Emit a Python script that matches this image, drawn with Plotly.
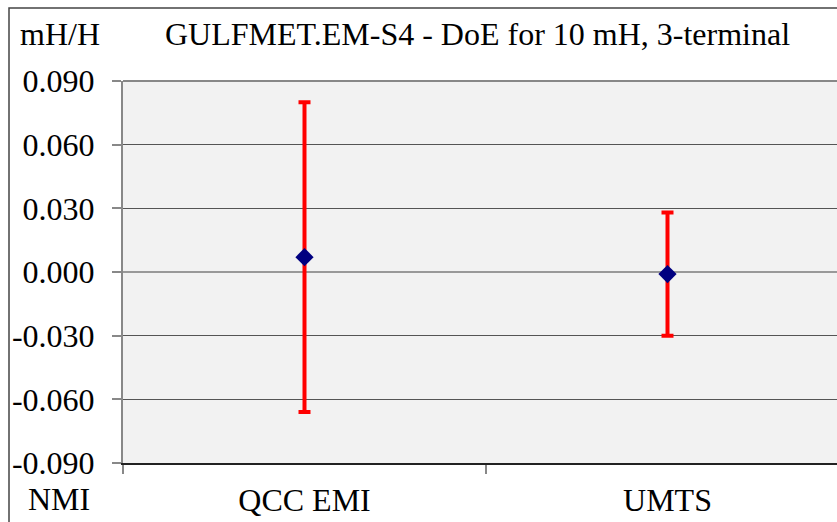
import plotly.graph_objects as go

categories = ["QCC EMI", "UMTS"]
values = [0.007, -0.001]
err_plus = [0.073, 0.029]
err_minus = [0.073, 0.029]
y_ticks = [-0.09, -0.06, -0.03, 0.0, 0.03, 0.06, 0.09]
y_tick_labels = ["-0.090", "-0.060", "-0.030", "0.000", "0.030", "0.060", "0.090"]

W, H = 837, 522
L, R, T, B = 123, 0, 81, 59
pw = W - L - R
ph = H - T - B

def px_x(p):
    return (p - L) / pw

def px_y(p):
    return 1 - (p - T) / ph

FONT = "Liberation Serif"
FS = 32

fig = go.Figure()
fig.add_trace(go.Scatter(
    x=list(range(len(categories))),
    y=values,
    mode="markers",
    marker=dict(symbol="diamond", size=14, color="#000080"),
    error_y=dict(type="data", symmetric=False, array=err_plus, arrayminus=err_minus,
                 color="#ff0000", thickness=4, width=6),
    showlegend=False,
    hoverinfo="y",
))

fig.update_layout(
    width=W, height=H,
    margin=dict(l=L, r=R, t=T, b=B),
    paper_bgcolor="white",
    plot_bgcolor="#f2f2f2",
    font=dict(family=FONT, size=FS, color="black"),
    showlegend=False,
)

fig.update_xaxes(
    range=[-0.5, -0.5 + pw / 363.0],
    tickvals=list(range(len(categories))),
    ticktext=categories,
    ticks="",
    showgrid=False,
    zeroline=False,
    showline=True, linecolor="#222222", linewidth=2,
    ticklabelstandoff=8,
    tickfont=dict(family=FONT, size=FS),
    minor=dict(tickvals=[-0.5, 0.5], ticks="outside", ticklen=9, tickcolor="#888888", tickwidth=2, showgrid=False),
    fixedrange=True,
)
fig.update_yaxes(
    range=[-0.09, 0.09],
    tickvals=y_ticks,
    ticktext=y_tick_labels,
    ticks="outside", ticklen=9, tickcolor="#888888", tickwidth=2,
    showgrid=True, gridcolor="#555555", gridwidth=1,
    zeroline=True, zerolinecolor="#999999", zerolinewidth=2,
    showline=True, linecolor="#888888", linewidth=2,
    mirror=False,
    ticklabelstandoff=11,
    tickfont=dict(family=FONT, size=FS),
    fixedrange=True,
)

# top border of plot area
fig.add_shape(type="line", xref="paper", yref="paper", x0=0, x1=1, y0=1, y1=1,
              line=dict(color="#888888", width=2))
# outer chart frame (partly cropped)
fig.add_shape(type="rect", xref="paper", yref="paper",
              x0=px_x(9), x1=1.2, y0=-0.3, y1=px_y(8),
              line=dict(color="#444444", width=1.5), fillcolor="rgba(0,0,0,0)")

fig.add_annotation(text="GULFMET.EM-S4 - DoE for 10 mH, 3-terminal", xref="paper", yref="paper",
                   x=0.497, y=px_y(34), xanchor="center", yanchor="middle", showarrow=False,
                   font=dict(family=FONT, size=FS))
fig.add_annotation(text="mH/H", xref="paper", yref="paper",
                   x=px_x(60), y=px_y(34), xanchor="center", yanchor="middle", showarrow=False,
                   font=dict(family=FONT, size=FS))
fig.add_annotation(text="NMI", xref="paper", yref="paper",
                   x=px_x(59), y=px_y(499), xanchor="center", yanchor="middle", showarrow=False,
                   font=dict(family=FONT, size=FS))

fig.write_html("out.html")
